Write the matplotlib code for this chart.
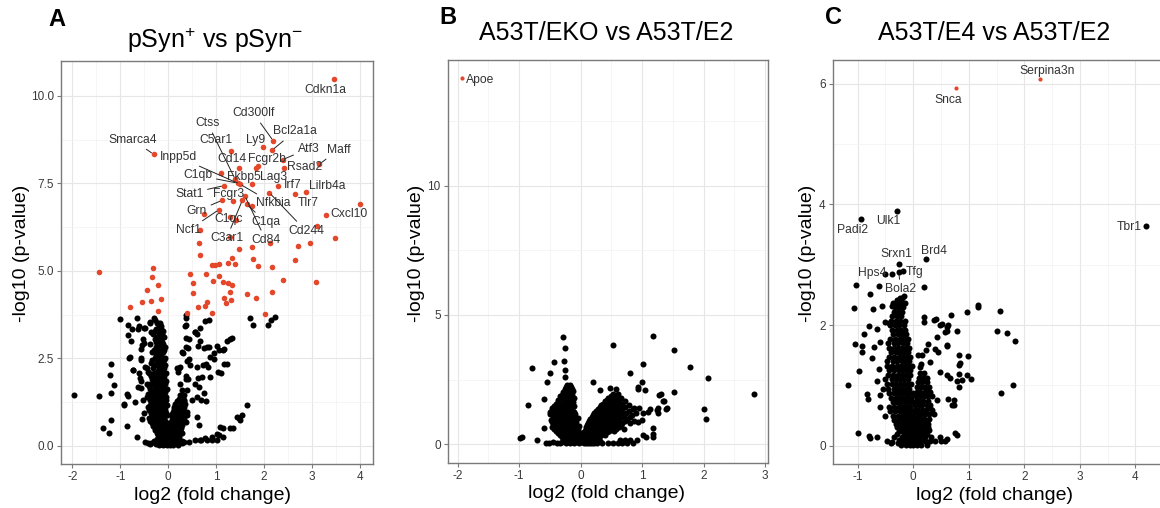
import numpy as np
import matplotlib
matplotlib.use('Agg')
import matplotlib.pyplot as plt

plt.rcParams['font.family'] = ['Liberation Sans', 'DejaVu Sans']
plt.rcParams['mathtext.fontset'] = 'custom'
plt.rcParams['mathtext.rm'] = 'Liberation Sans'
plt.rcParams['mathtext.it'] = 'Liberation Sans:italic'

RED = '#e4472a'
LABEL_C = '#333333'

# ---------------- panel A : pSyn+ vs pSyn- ----------------
a_red = [(3.47, 10.48), (-0.30, 8.33), (2.20, 8.71), (2.17, 8.45), (1.99, 8.53), (1.31, 8.43),
         (1.84, 7.95), (1.87, 7.99), (2.39, 8.18), (3.16, 8.05), (2.42, 7.95), (1.48, 7.95),
         (1.10, 7.80), (1.45, 7.51), (1.50, 7.48), (1.76, 7.48), (2.30, 7.43), (1.17, 7.44),
         (2.11, 7.24), (2.65, 7.21), (2.88, 7.25), (3.29, 6.61), (4.00, 6.92), (1.13, 7.02),
         (1.36, 6.99), (1.55, 7.02), (1.76, 6.86), (0.75, 6.64), (1.06, 6.75), (1.29, 6.53),
         (1.41, 6.45), (1.64, 6.90), (1.29, 5.97), (2.13, 5.81), (0.67, 6.16), (0.65, 5.80),
         (3.11, 6.28), (3.49, 5.95), (2.97, 5.80), (2.72, 5.70), (1.76, 5.69), (1.48, 5.64),
         (0.67, 5.45), (1.34, 5.38), (1.24, 5.24), (1.40, 5.19), (0.98, 5.16), (1.06, 5.21),
         (0.91, 5.16), (1.78, 5.34), (1.87, 5.13), (2.16, 5.11), (2.65, 5.30), (-1.45, 4.97),
         (-0.31, 5.09), (-0.34, 4.83), (-0.45, 4.45), (-0.21, 4.59), (-0.55, 4.11), (-0.35, 4.13),
         (-0.16, 4.21), (-0.21, 3.86), (-0.79, 3.97), (0.45, 4.90), (0.51, 4.64), (0.52, 4.37),
         (0.78, 4.90), (0.93, 4.70), (1.06, 4.85), (1.14, 4.69), (1.24, 4.64), (1.33, 4.59),
         (1.29, 4.40), (1.17, 4.23), (1.31, 4.16), (1.21, 4.07), (0.62, 3.97), (0.77, 3.99),
         (0.82, 4.11), (0.92, 3.80), (0.40, 3.80), (1.64, 4.35), (1.83, 4.23), (2.40, 4.75),
         (2.17, 4.40), (3.09, 4.69), (2.03, 3.78), (1.40, 7.62), (1.60, 7.15)]

a_black = [(-1.96, 1.46), (-1.44, 1.43), (-1.37, 0.50), (-1.23, 0.37), (-1.20, 0.73), (-1.20, 1.50),
           (-1.22, 2.02), (-1.20, 2.33), (-1.13, 1.73), (-1.01, 3.62), (-0.85, 3.45), (-0.83, 3.17),
           (-0.78, 2.99), (-0.81, 2.52), (-0.74, 2.18), (-0.86, 0.57), (-0.92, 1.19), (-0.83, 1.43),
           (-0.65, 0.26), (-0.65, 3.64), (-0.64, 3.35), (-0.51, 3.38), (-0.48, 3.38), (-0.51, 2.95),
           (-0.57, 2.76), (-0.56, 2.45), (-0.44, 2.21), (-0.64, 1.69), (-0.69, 1.26), (-0.56, 1.86),
           (-0.38, 3.55), (-0.29, 3.64), (-0.50, 0.93), (-0.55, 0.76), (-0.42, 0.09), (-0.35, 0.09),
           (-0.76, 3.35), (-0.62, 3.42), (-0.39, 3.50), (-0.28, 3.59), (-0.24, 3.52), (-0.35, 3.26),
           (-0.31, 3.21), (-0.52, 3.04), (-0.54, 2.88), (-0.38, 2.92), (-0.80, 2.55), (-0.56, 2.50),
           (-0.73, 2.16), (-0.62, 2.07), (-0.59, 1.95), (-0.49, 2.26), (-0.42, 2.11), (-0.35, 2.02),
           (-0.87, 1.48), (-0.93, 1.18), (-0.56, 1.64), (-0.52, 1.31), (-0.45, 1.40), (-0.38, 1.78),
           (-0.49, 0.11), (-0.38, 0.06),
           (0.37, 3.74), (0.37, 3.66), (0.38, 3.46), (0.57, 3.24), (0.67, 3.38), (0.76, 3.56),
           (0.85, 3.61), (0.38, 3.09), (0.66, 2.99), (0.63, 2.84), (0.41, 2.81), (0.31, 2.66),
           (0.44, 2.49), (0.74, 2.80), (0.82, 2.83), (1.03, 2.85), (1.07, 2.73), (1.17, 2.78),
           (1.22, 2.99), (1.29, 3.05), (1.34, 3.09), (0.96, 2.49), (0.84, 2.26), (1.23, 2.33),
           (1.10, 2.09), (0.62, 1.95), (0.19, 2.21), (0.23, 2.21), (0.37, 2.00), (0.38, 1.90),
           (0.64, 1.69), (0.75, 1.50), (0.79, 1.27), (1.64, 1.16), (1.43, 0.83), (1.54, 0.88),
           (1.50, 0.73), (1.30, 0.50), (1.36, 0.50), (1.15, 0.26), (1.06, 0.30), (0.66, 0.17),
           (0.82, 0.17), (0.92, 0.17), (1.02, 0.17), (1.70, 3.64), (1.78, 3.45), (2.09, 3.45),
           (2.14, 3.59), (2.23, 3.69), (0.35, 3.42), (0.56, 3.26), (0.61, 3.21), (0.44, 3.04),
           (0.38, 2.83), (0.86, 2.83), (1.15, 2.73), (0.96, 2.64), (0.88, 2.54), (0.28, 2.68),
           (0.40, 2.42), (0.25, 2.26), (0.21, 2.11), (0.46, 2.31), (0.61, 2.26), (0.72, 2.31),
           (0.80, 2.35), (0.88, 1.97), (0.71, 1.97), (0.42, 1.92), (0.56, 1.78), (0.25, 1.78),
           (0.40, 1.59), (0.61, 1.40), (0.68, 1.31), (0.50, 1.31), (0.33, 1.31), (1.17, 2.35),
           (1.04, 2.11), (0.61, 0.83), (0.65, 0.59), (0.40, 0.88), (1.47, 0.79), (1.08, 0.55),
           (1.15, 0.50), (1.01, 0.35), (0.91, 0.26), (0.77, 0.21), (0.68, 0.18), (0.57, 0.16),
           (0.43, 0.11), (0.29, 0.09), (0.18, 0.07)]

# dense V-shaped core, read row by row: (-log10 p, [log2 FC ...])
a_core = [(3.50, [-0.22, -0.18]), (3.42, [-0.20, -0.14]), (3.35, [-0.25, -0.16]),
          (3.27, [-0.27, -0.17, -0.10]), (3.20, [-0.20, -0.12]), (3.12, [-0.24, -0.16, -0.08]),
          (3.05, [-0.28, -0.15]), (2.97, [-0.26, -0.18, -0.12]), (2.90, [-0.22, -0.10]),
          (2.82, [-0.25, -0.14, -0.06]), (2.75, [-0.30, -0.18, -0.08]),
          (2.67, [-0.34, -0.21, -0.10]), (2.60, [-0.25, -0.14]), (2.52, [-0.28, -0.17, -0.06]),
          (2.45, [-0.33, -0.20, -0.09]), (2.37, [-0.36, -0.24, -0.12]),
          (2.30, [-0.27, -0.15, -0.06]), (2.22, [-0.31, -0.19, -0.08]), (2.15, [-0.22, -0.11]),
          (2.07, [-0.40, -0.30, -0.21, -0.12, -0.04]), (2.00, [-0.35, -0.26, -0.17, -0.08]),
          (1.92, [-0.34, -0.25, -0.16, -0.08]), (1.85, [-0.30, -0.21, -0.12, -0.05]),
          (1.77, [-0.44, -0.33, -0.23, -0.14, -0.06]), (1.70, [-0.40, -0.28, -0.18, -0.10]),
          (1.62, [-0.37, -0.28, -0.19, -0.11, -0.03]), (1.55, [-0.33, -0.24, -0.15, -0.07]),
          (1.47, [-0.42, -0.33, -0.24, -0.16, -0.08]), (1.40, [-0.38, -0.29, -0.20, -0.12, -0.04]),
          (1.32, [-0.39, -0.30, -0.21, -0.13, -0.05]), (1.25, [-0.34, -0.25, -0.17, -0.09]),
          (1.17, [-0.37, -0.27, -0.18, -0.10, -0.02]), (1.10, [-0.42, -0.31, -0.22, -0.14, -0.06]),
          (1.02, [-0.40, -0.31, -0.23, -0.15, -0.07]), (0.95, [-0.36, -0.27, -0.19, -0.11, -0.04]),
          (0.87, [-0.34, -0.26, -0.19, -0.11, -0.03]), (0.80, [-0.40, -0.30, -0.23, -0.15, -0.08]),
          (0.72, [-0.37, -0.29, -0.21, -0.14, -0.07]), (0.65, [-0.33, -0.25, -0.18, -0.11, -0.03]),
          (0.57, [-0.31, -0.24, -0.17, -0.10, -0.03]), (0.50, [-0.28, -0.21, -0.14, -0.07]),
          (0.44, [-0.27, -0.20, -0.13, -0.06, 0.01]), (0.38, [-0.24, -0.16, -0.10, -0.03]),
          (0.32, [-0.22, -0.16, -0.09, -0.02, 0.04]), (0.26, [-0.20, -0.13, -0.06, 0.01]),
          (0.20, [-0.24, -0.15, -0.08, -0.01, 0.06, 0.12]),
          (0.15, [-0.30, -0.17, -0.10, -0.04, 0.03]), (0.06, [-0.25, -0.14, -0.07, 0.00, 0.06]),
          (0.02, [-0.20, -0.10, -0.03, 0.03, 0.10, 0.20]),
          (1.60, [0.28]), (1.45, [0.25, 0.33]), (1.35, [0.22, 0.30]), (1.28, [0.19, 0.27, 0.34]),
          (1.20, [0.15, 0.26, 0.36]), (1.12, [0.13, 0.23, 0.33]), (1.05, [0.12, 0.21, 0.31]),
          (0.97, [0.10, 0.19, 0.28, 0.39]), (0.90, [0.09, 0.18, 0.27, 0.36]),
          (0.82, [0.08, 0.16, 0.25, 0.34]), (0.75, [0.07, 0.15, 0.23, 0.32]),
          (0.67, [0.06, 0.13, 0.21, 0.30, 0.38]), (0.60, [0.05, 0.12, 0.20, 0.29]),
          (0.52, [0.05, 0.11, 0.18, 0.27]), (0.45, [0.04, 0.10, 0.17, 0.25]),
          (0.38, [0.04, 0.09, 0.14, 0.20, 0.28]), (0.32, [0.03, 0.09, 0.15, 0.22]),
          (0.26, [0.05, 0.10, 0.16, 0.23]), (0.20, [0.07, 0.12, 0.19]),
          (0.14, [0.04, 0.09, 0.14, 0.21, 0.28]), (0.10, [0.10, 0.16, 0.24, 0.34])]

a_labels = ['Cdkn1a', 'Cd300lf', 'Ctss', 'Bcl2a1a', 'Smarca4', 'C5ar1', 'Ly9', 'Atf3', 'Maff',
            'Inpp5d', 'Cd14', 'Fcgr2b', 'Rsad2', 'C1qb', 'Fkbp5', 'Lag3', 'Irf7', 'Lilrb4a',
            'Stat1', 'Fcgr3', 'Nfkbia', 'Tlr7', 'Grn', 'Cxcl10', 'C1qc', 'C1qa', 'Ncf1',
            'Cd244', 'C3ar1', 'Cd84']
a_lab_xy = [(3.28, 10.18), (1.78, 9.51), (0.82, 9.23), (2.65, 8.99), (-0.75, 8.75), (1.00, 8.73),
            (1.82, 8.73), (2.93, 8.49), (3.56, 8.47), (0.21, 8.26), (1.34, 8.21), (2.07, 8.21),
            (2.86, 7.97), (0.62, 7.73), (1.58, 7.67), (2.20, 7.67), (2.61, 7.45), (3.33, 7.43),
            (0.44, 7.21), (1.27, 7.19), (2.19, 6.93), (2.92, 6.93), (0.60, 6.71), (3.77, 6.64),
            (1.26, 6.47), (2.04, 6.40), (0.42, 6.16), (2.88, 6.14), (1.22, 5.93), (2.04, 5.88)]
a_lab_pt = [(3.47, 10.48), (2.20, 8.71), (1.40, 7.62), (2.17, 8.45), (-0.30, 8.33), (1.31, 8.43),
            (1.99, 8.53), (2.39, 8.18), (3.16, 8.05), (1.50, 7.48), (1.48, 7.95), (1.84, 7.95),
            (2.42, 7.95), (1.45, 7.51), (1.45, 7.51), (1.76, 7.48), (2.30, 7.43), (2.88, 7.25),
            (1.17, 7.44), (1.36, 6.99), (1.50, 7.48), (2.65, 7.21), (1.13, 7.02), (3.29, 6.61),
            (1.29, 6.53), (1.64, 6.90), (1.06, 6.75), (2.11, 7.24), (1.55, 7.02), (1.60, 7.15)]
a_lab_line = [0, 1, 1, 1, 1, 0, 0, 1, 1, 1, 0, 0, 0, 1, 0, 0, 0, 0, 1, 0, 1, 0, 1, 0, 0, 1, 1,
              1, 1, 1]

# ---------------- panel B : A53T/EKO vs A53T/E2 ----------------
b_red = [(-1.93, 14.16)]
b_black = [(-0.28, 4.15), (-0.26, 3.73), (-0.27, 3.21), (-0.43, 3.19), (-0.79, 2.93), (-0.50, 2.74),
           (-0.55, 2.39), (-0.26, 2.86), (-0.26, 2.58), (0.52, 3.83), (1.17, 4.19), (1.52, 3.64),
           (1.02, 3.12), (0.80, 2.76), (1.78, 2.99), (2.07, 2.57), (2.81, 1.94), (2.00, 1.34),
           (2.03, 0.99), (0.99, 2.41), (0.93, 2.12), (1.05, 2.09), (1.51, 2.03), (1.30, 1.94),
           (1.35, 1.68), (1.41, 1.39), (1.25, 1.19), (1.25, 1.38), (1.12, 1.36), (0.20, 2.41),
           (0.31, 2.09), (0.48, 2.18), (0.57, 2.15), (-0.85, 1.51), (-0.60, 1.73), (-0.59, 0.63),
           (-0.98, 0.22), (-0.95, 0.28), (-0.71, 0.15), (-0.56, 0.05), (1.18, 0.41), (1.18, 0.29),
           (1.02, 0.35), (1.07, 0.26), (0.91, 0.15), (0.80, 0.15), (0.72, 0.15), (0.64, 0.15),
           (0.94, 2.22), (0.86, 1.38), (0.95, 1.38), (1.02, 1.19), (1.10, 1.25), (0.93, 0.86),
           (0.99, 0.93), (1.18, 0.61), (1.24, 1.32), (1.28, 1.90), (1.34, 1.65), (1.39, 1.36)]
b_core = [(2.30, [-0.22, -0.17]), (2.22, [-0.23, -0.16]), (2.15, [-0.25, -0.19, -0.14]),
          (2.07, [-0.26, -0.18, -0.12]), (2.00, [-0.28, -0.21, -0.15]),
          (1.92, [-0.30, -0.21, -0.14]), (1.85, [-0.33, -0.24, -0.17]),
          (1.77, [-0.32, -0.23, -0.16, -0.10]), (1.70, [-0.36, -0.27, -0.20, -0.14]),
          (1.62, [-0.36, -0.27, -0.19, -0.12]), (1.55, [-0.40, -0.31, -0.23, -0.16]),
          (1.47, [-0.43, -0.34, -0.25, -0.17, -0.10]), (1.40, [-0.47, -0.38, -0.29, -0.21, -0.14]),
          (1.32, [-0.46, -0.37, -0.29, -0.21, -0.14]),
          (1.25, [-0.50, -0.42, -0.33, -0.25, -0.18, -0.11]),
          (1.17, [-0.49, -0.40, -0.32, -0.24, -0.17, -0.09]),
          (1.10, [-0.45, -0.36, -0.28, -0.20, -0.13]),
          (1.02, [-0.44, -0.35, -0.27, -0.19, -0.12, -0.05]),
          (0.95, [-0.48, -0.40, -0.31, -0.23, -0.16, -0.09]),
          (0.87, [-0.47, -0.38, -0.30, -0.22, -0.14, -0.07]),
          (0.80, [-0.43, -0.34, -0.26, -0.18, -0.11]),
          (0.72, [-0.41, -0.32, -0.24, -0.16, -0.09, -0.03]),
          (0.65, [-0.47, -0.37, -0.28, -0.20, -0.13, -0.06]),
          (0.57, [-0.44, -0.35, -0.26, -0.18, -0.11, -0.04]),
          (0.50, [-0.40, -0.31, -0.22, -0.15, -0.08]),
          (0.42, [-0.37, -0.28, -0.20, -0.13, -0.06, 0.00]),
          (0.35, [-0.34, -0.25, -0.17, -0.10, -0.04]),
          (0.28, [-0.31, -0.22, -0.15, -0.08, -0.02, 0.04]),
          (0.22, [-0.28, -0.19, -0.12, -0.05, 0.01]),
          (0.16, [-0.26, -0.17, -0.10, -0.03, 0.04, 0.09]),
          (0.10, [-0.45, -0.30, -0.21, -0.13, -0.06, 0.02]),
          (0.06, [-0.33, -0.17, -0.03, 0.08, 0.15, 0.22]),
          (0.03, [-0.52, -0.38, -0.24, -0.10, 0.05, 0.12]),
          (1.95, [0.52, 0.60]), (1.87, [0.49, 0.58]), (1.80, [0.45, 0.55, 0.66]),
          (1.72, [0.43, 0.53, 0.63]), (1.65, [0.40, 0.50, 0.60, 0.72]),
          (1.57, [0.37, 0.47, 0.57, 0.68]), (1.50, [0.33, 0.43, 0.53, 0.64, 0.78]),
          (1.42, [0.31, 0.40, 0.50, 0.60, 0.72]), (1.35, [0.28, 0.37, 0.47, 0.57, 0.68, 0.85]),
          (1.27, [0.25, 0.34, 0.44, 0.54, 0.65, 0.79]),
          (1.20, [0.22, 0.31, 0.41, 0.51, 0.62, 0.74, 0.90]),
          (1.12, [0.20, 0.29, 0.39, 0.49, 0.59, 0.70, 0.84]),
          (1.05, [0.18, 0.27, 0.36, 0.46, 0.56, 0.67, 0.80]),
          (0.97, [0.16, 0.25, 0.34, 0.43, 0.53, 0.63, 0.76]),
          (0.90, [0.14, 0.22, 0.31, 0.40, 0.50, 0.60, 0.72, 0.86]),
          (0.82, [0.12, 0.21, 0.29, 0.38, 0.47, 0.57, 0.68, 0.80]),
          (0.75, [0.11, 0.19, 0.27, 0.35, 0.44, 0.54, 0.65]),
          (0.67, [0.09, 0.17, 0.25, 0.33, 0.42, 0.52, 0.62]),
          (0.60, [0.08, 0.15, 0.23, 0.31, 0.39, 0.48, 0.58, 0.70]),
          (0.52, [0.07, 0.14, 0.21, 0.29, 0.37, 0.46, 0.55]),
          (0.45, [0.06, 0.12, 0.19, 0.26, 0.34, 0.43]),
          (0.37, [0.05, 0.11, 0.18, 0.25, 0.33, 0.40]), (0.30, [0.04, 0.10, 0.16, 0.23, 0.31]),
          (0.24, [0.04, 0.09, 0.15, 0.22, 0.29]), (0.18, [0.03, 0.08, 0.14, 0.21]),
          (0.12, [0.06, 0.11, 0.17, 0.24, 0.31]),
          (0.05, [0.18, 0.26, 0.35, 0.44, 0.52, 0.60, 0.68, 0.76, 0.85])]

# ---------------- panel C : A53T/E4 vs A53T/E2 ----------------
c_red = [(2.29, 6.08), (0.77, 5.92)]
c_black = [(-0.29, 3.89), (-0.94, 3.75), (4.19, 3.64), (0.23, 3.09), (-0.25, 3.01), (-0.19, 2.90),
           (-0.26, 2.88), (-0.50, 2.84), (-0.38, 2.85), (-0.17, 2.48), (-0.61, 2.64), (-1.03, 2.66),
           (0.20, 2.63), (-0.77, 2.52), (-1.07, 2.29), (-0.73, 2.27), (-0.56, 2.31), (-0.39, 2.31),
           (-0.36, 2.37), (-0.29, 2.41), (-0.22, 2.38), (-0.79, 1.98), (-0.66, 1.93), (-0.50, 2.05),
           (-0.44, 2.03), (-0.89, 1.86), (-1.04, 1.69), (-0.92, 1.66), (-0.92, 1.55), (-0.71, 1.64),
           (-0.59, 1.72), (-0.74, 1.45), (-0.61, 1.28), (-0.97, 1.24), (-1.18, 1.00), (-0.84, 0.86),
           (-0.81, 0.78), (-0.59, 0.84), (-0.66, 1.08), (-0.55, 0.95), (-0.59, 0.65), (-0.50, 0.49),
           (-0.99, 0.21), (-0.79, 0.17), (-0.77, 0.13), (-0.66, 0.15), (-0.47, 0.08), (-0.38, 0.06),
           (0.19, 2.14), (0.20, 2.05), (0.38, 2.08), (0.49, 2.00), (0.63, 2.00), (0.68, 2.16),
           (0.97, 2.22), (1.16, 2.30), (1.16, 2.34), (1.57, 2.23), (1.51, 1.90), (1.68, 1.87),
           (1.84, 1.74), (1.58, 0.88), (1.79, 1.00), (0.61, 1.97), (0.58, 1.88), (0.43, 1.80),
           (0.26, 1.68), (0.61, 1.65), (0.82, 1.50), (0.98, 1.49), (0.85, 1.38), (0.83, 1.19),
           (0.97, 1.18), (1.04, 1.11), (0.79, 1.08), (0.73, 0.76), (0.74, 0.68), (0.82, 0.98),
           (0.52, 2.02), (0.41, 2.10), (0.61, 1.91), (0.79, 1.91), (0.23, 1.58), (0.40, 1.61),
           (0.44, 1.55), (0.61, 1.67), (0.13, 1.31), (0.31, 1.39), (0.49, 1.23), (0.61, 1.17),
           (0.67, 1.12), (0.83, 1.34), (0.88, 1.09), (0.23, 0.92), (0.27, 0.87), (0.63, 0.78),
           (0.69, 0.67), (0.43, 0.76), (0.31, 0.62), (0.26, 0.37), (0.79, 0.18), (0.76, 0.22),
           (0.49, 0.15), (0.61, 0.12)]
c_core = [(2.45, [-0.24, -0.20]), (2.37, [-0.27, -0.21, -0.15]), (2.30, [-0.33, -0.26, -0.18]),
          (2.22, [-0.35, -0.27, -0.20]), (2.15, [-0.38, -0.29, -0.22]),
          (2.07, [-0.40, -0.31, -0.23, -0.15]), (2.00, [-0.42, -0.33, -0.25, -0.17]),
          (1.92, [-0.39, -0.30, -0.22, -0.15]), (1.85, [-0.37, -0.28, -0.20, -0.13]),
          (1.77, [-0.42, -0.32, -0.24, -0.16, -0.10]), (1.70, [-0.45, -0.35, -0.27, -0.19, -0.12]),
          (1.62, [-0.43, -0.34, -0.27, -0.20, -0.13, -0.07]),
          (1.55, [-0.40, -0.31, -0.24, -0.16, -0.10]),
          (1.47, [-0.44, -0.34, -0.26, -0.18, -0.11, -0.05]),
          (1.40, [-0.48, -0.37, -0.29, -0.21, -0.14, -0.08]),
          (1.32, [-0.47, -0.38, -0.30, -0.22, -0.15, -0.09, -0.03]),
          (1.25, [-0.43, -0.34, -0.26, -0.19, -0.12, -0.06]),
          (1.17, [-0.46, -0.36, -0.28, -0.20, -0.13, -0.06]),
          (1.10, [-0.50, -0.39, -0.31, -0.23, -0.16, -0.09]),
          (1.02, [-0.48, -0.39, -0.31, -0.23, -0.16, -0.10, -0.04]),
          (0.95, [-0.45, -0.35, -0.27, -0.20, -0.13, -0.07]),
          (0.87, [-0.43, -0.34, -0.27, -0.20, -0.13, -0.07, -0.01]),
          (0.80, [-0.40, -0.31, -0.24, -0.17, -0.10, -0.04]),
          (0.72, [-0.37, -0.29, -0.22, -0.15, -0.09, -0.03]),
          (0.65, [-0.44, -0.34, -0.26, -0.19, -0.12, -0.06]),
          (0.57, [-0.41, -0.32, -0.24, -0.17, -0.11, -0.05, 0.01]),
          (0.50, [-0.37, -0.28, -0.21, -0.14, -0.08, -0.02]),
          (0.43, [-0.34, -0.26, -0.19, -0.13, -0.07, -0.01]),
          (0.37, [-0.31, -0.23, -0.16, -0.10, -0.04]),
          (0.31, [-0.29, -0.21, -0.14, -0.08, -0.02, 0.04]),
          (0.25, [-0.26, -0.18, -0.11, -0.05, 0.01]),
          (0.19, [-0.30, -0.16, -0.10, -0.04, 0.02, 0.08]),
          (0.14, [-0.35, -0.21, -0.13, -0.07, -0.01, 0.05]),
          (0.10, [-0.25, -0.19, -0.11, -0.05, 0.01, 0.07, 0.12]),
          (0.05, [-0.40, -0.28, -0.17, -0.09, -0.03, 0.03, 0.09]),
          (0.02, [-0.22, -0.13, -0.06, 0.00, 0.06, 0.14, 0.24]),
          (1.50, [0.09, 0.16]), (1.35, [0.14]), (1.20, [0.12, 0.20]), (1.12, [0.10, 0.18, 0.24]),
          (1.05, [0.08, 0.16, 0.25]), (0.97, [0.07, 0.14, 0.22, 0.29]),
          (0.90, [0.06, 0.13, 0.21, 0.30]), (0.82, [0.05, 0.12, 0.19, 0.26, 0.34]),
          (0.75, [0.05, 0.11, 0.18, 0.27]), (0.67, [0.04, 0.10, 0.16, 0.24, 0.31]),
          (0.60, [0.04, 0.09, 0.15, 0.23, 0.33]), (0.52, [0.03, 0.08, 0.14, 0.21, 0.29, 0.37]),
          (0.45, [0.03, 0.08, 0.13, 0.20, 0.28]), (0.38, [0.02, 0.06, 0.11, 0.17, 0.24]),
          (0.32, [0.02, 0.07, 0.12, 0.18, 0.26]), (0.26, [0.03, 0.08, 0.13, 0.20, 0.28]),
          (0.20, [0.06, 0.11, 0.17, 0.24]), (0.14, [0.04, 0.09, 0.15, 0.22, 0.32]),
          (0.08, [0.13, 0.21, 0.30, 0.40, 0.50, 0.58])]

c_labels = ['Serpina3n', 'Snca', 'Padi2', 'Ulk1', 'Tbr1', 'Srxn1', 'Brd4', 'Hps4', 'Tfg', 'Bola2']
c_lab_xy = [(2.41, 6.21), (0.63, 5.73), (-1.09, 3.57), (-0.45, 3.73), (3.88, 3.63), (-0.31, 3.17),
            (0.38, 3.22), (-0.74, 2.87), (0.02, 2.88), (-0.23, 2.59)]
c_lab_pt = [(2.29, 6.08), (0.77, 5.92), (-0.94, 3.75), (-0.29, 3.89), (4.19, 3.64), (-0.25, 3.01),
            (0.23, 3.09), (-0.50, 2.84), (-0.19, 2.90), (-0.26, 2.88)]
c_lab_line = [0, 0, 0, 0, 0, 0, 0, 0, 1, 1]


def unzip(pts, rows=()):
    xs = [p[0] for p in pts]
    ys = [p[1] for p in pts]
    for y, row in rows:
        xs += row
        ys += [y] * len(row)
    return np.array(xs), np.array(ys)


W, H = 1160, 508
fig = plt.figure(figsize=(W / 100, H / 100), dpi=100)


def add_axes(x0, x1, y0, y1):
    # pixel box (left, right, top, bottom) -> figure fraction
    return fig.add_axes([x0 / W, 1 - y1 / H, (x1 - x0) / W, (y1 - y0) / H])


def style(ax, xlim, ylim, xt, yt, ytl, xminor, yminor):
    ax.set_xlim(*xlim)
    ax.set_ylim(*ylim)
    ax.set_xticks(xt)
    ax.set_xticklabels([str(v) for v in xt])
    ax.set_yticks(yt)
    ax.set_yticklabels(ytl)
    ax.set_xticks(xminor, minor=True)
    ax.set_yticks(yminor, minor=True)
    ax.grid(which='major', color='#e6e6e6', lw=0.8)
    ax.grid(which='minor', color='#f2f2f2', lw=0.5)
    ax.set_axisbelow(True)
    for s in ax.spines.values():
        s.set_color('#7a7a7a')
        s.set_linewidth(1.0)
    ax.tick_params(which='major', length=3, width=0.8, color='#7a7a7a', labelsize=8.5,
                   labelcolor='#3a3a3a', pad=2)
    ax.tick_params(which='minor', length=0)
    ax.set_xlabel('log2 (fold change)', fontsize=14)
    ax.set_ylabel('-log10 (p-value)', fontsize=14)


def put_labels(ax, names, txy, pxy, lines, fs=8.7):
    for name, t, p, ln in zip(names, txy, pxy, lines):
        if ln:
            ax.annotate(name, xy=p, xytext=t, ha='center', va='center', fontsize=fs,
                        color=LABEL_C,
                        arrowprops=dict(arrowstyle='-', color='#222222', lw=0.7,
                                        shrinkA=1, shrinkB=2))
        else:
            ax.text(t[0], t[1], name, ha='center', va='center', fontsize=fs, color=LABEL_C)


PT = 19  # marker area of the black points

# ---- A ----
axA = add_axes(61, 373, 61, 464)
x, y = unzip(a_black, a_core)
axA.scatter(x, y, s=PT, color='black', linewidths=0, zorder=2)
x, y = unzip(a_red)
axA.scatter(x, y, s=16, color=RED, linewidths=0, zorder=3)
put_labels(axA, a_labels, a_lab_xy, a_lab_pt, a_lab_line)
style(axA, (-2.24, 4.28), (-0.52, 11.0), [-2, -1, 0, 1, 2, 3, 4], [0, 2.5, 5, 7.5, 10],
      ['0.0', '2.5', '5.0', '7.5', '10.0'], [-1.5, -0.5, 0.5, 1.5, 2.5, 3.5],
      [1.25, 3.75, 6.25, 8.75])

# ---- B ----
axB = add_axes(447.7, 768.3, 60, 462.7)
x, y = unzip(b_black, b_core)
axB.scatter(x, y, s=PT, color='black', linewidths=0, zorder=2)
x, y = unzip(b_red)
axB.scatter(x, y, s=9, color=RED, linewidths=0, zorder=3)
axB.text(-1.86, 14.1, 'Apoe', ha='left', va='center', fontsize=8.7, color=LABEL_C)
style(axB, (-2.16, 3.05), (-0.72, 14.87), [-2, -1, 0, 1, 2, 3], [0, 5, 10], ['0', '5', '10'],
      [-1.5, -0.5, 0.5, 1.5, 2.5], [2.5, 7.5, 12.5])

# ---- C ----
axC = add_axes(832.7, 1160.5, 60, 464)
x, y = unzip(c_black, c_core)
axC.scatter(x, y, s=PT, color='black', linewidths=0, zorder=2)
x, y = unzip(c_red)
axC.scatter(x, y, s=9, color=RED, linewidths=0, zorder=3)
put_labels(axC, c_labels, c_lab_xy, c_lab_pt, c_lab_line)
style(axC, (-1.45, 4.45), (-0.30, 6.39), [-1, 0, 1, 2, 3, 4], [0, 2, 4, 6], ['0', '2', '4', '6'],
      [-0.5, 0.5, 1.5, 2.5, 3.5], [1, 3, 5])

# axis label placement (pixel positions)
for ax, (lx, ly), (bx, by) in [(axA, (22, 253), (213, 495)),
                               (axB, (416.7, 253), (606.7, 494)),
                               (axC, (808, 253), (995, 495))]:
    inv = ax.transAxes.inverted()
    ax.yaxis.set_label_coords(*inv.transform(fig.transFigure.transform((lx / W, 1 - ly / H))))
    ax.xaxis.set_label_coords(*inv.transform(fig.transFigure.transform((bx / W, 1 - by / H))))
    ax.yaxis.label.set_va('center')
    ax.xaxis.label.set_va('center')

# titles and panel letters
fig.text(215 / W, 1 - 40 / H, 'pSyn$^{+}$ vs pSyn$^{-}$', ha='center', va='center', fontsize=18)
fig.text(606 / W, 1 - 33 / H, 'A53T/EKO vs A53T/E2', ha='center', va='center', fontsize=18)
fig.text(994 / W, 1 - 33 / H, 'A53T/E4 vs A53T/E2', ha='center', va='center', fontsize=18)
for lt, lx, ly in [('A', 57, 19), ('B', 448, 18), ('C', 833, 17)]:
    fig.text(lx / W, 1 - ly / H, lt, ha='center', va='center', fontsize=17, fontweight='bold')

fig.savefig('out.png', dpi=100)
